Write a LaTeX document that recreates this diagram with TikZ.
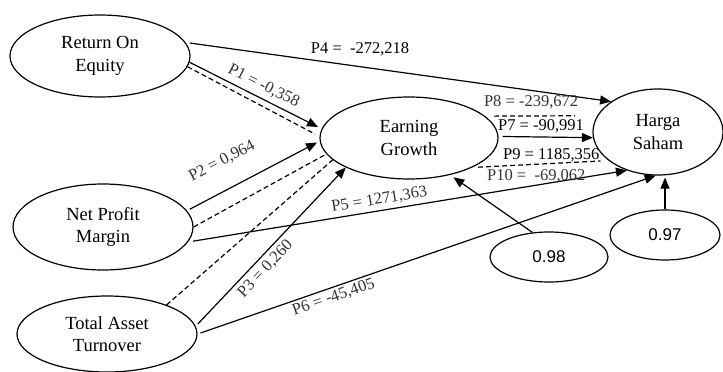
\documentclass[tikz,border=0pt]{standalone}
\usepackage{fontspec}
\setmainfont{Liberation Serif}
\newfontfamily\numfont{Liberation Sans}
\usetikzlibrary{arrows.meta,shapes.geometric}

\begin{document}
\begin{tikzpicture}[x=1pt, y=-1pt,
    construct/.style={draw, ellipse, line width=1.2pt, align=center, inner sep=0pt,
        font=\fontsize{18.5}{22.5}\selectfont},
    resid/.style={draw, ellipse, line width=1.2pt, inner sep=0pt,
        font=\numfont\fontsize{17}{20}\selectfont},
    effect/.style={line width=1.2pt, -{Triangle[length=11pt,width=9pt]}},
    indirect/.style={line width=1.2pt, dash pattern=on 5pt off 3pt},
    lbl/.style={font=\fontsize{16.5}{19}\selectfont, text=black!80, inner xsep=0pt}]

    \useasboundingbox (0,0) rectangle (723,372);

    \node[construct, minimum width=180pt, minimum height=82pt] (roe) at (100,56) {Return On\\Equity};
    \node[construct, minimum width=180pt, minimum height=86pt] (npm) at (103,227) {Net Profit\\Margin};
    \node[construct, minimum width=180pt, minimum height=76pt] (tat) at (107,334) {Total Asset\\Turnover};
    \node[construct, minimum width=178pt, minimum height=82pt] (eg) at (409,138) {Earning\\Growth};
    \node[construct, minimum width=130pt, minimum height=86pt] (hs) at (658,132) {Harga\\Saham};
    \node[resid, minimum width=118pt, minimum height=50pt] (e98) at (549,257) {0.98};
    \node[resid, minimum width=110pt, minimum height=50pt] (e97) at (665,235) {0.97};

    \draw[effect, shorten <=4pt] (roe.9) -- (hs.147)
        node[lbl, text=black, pos=.41, above, inner ysep=10pt] {P4 = \ -272,218};
    \draw[effect, shorten >=4pt] (roe.-4) -- (eg.174)
        node[lbl, sloped, pos=.52, above, inner ysep=4.8pt] {P1 = -0,358};
    \draw[indirect, shorten >=5pt] (roe.-7) -- (eg.179);
    \draw[effect, shorten <=3pt, shorten >=3pt] (npm.11) -- (eg.182)
        node[lbl, sloped, pos=.36, above, inner ysep=20pt] {P2 = 0,964};
    \draw[indirect] (npm.0) -- (eg.191);
    \draw[indirect] (tat.26) -- (eg.196);
    \draw[effect, shorten <=3pt] (tat.5) -- (eg.205)
        node[lbl, sloped, pos=.41, below, inner ysep=4pt] {P3 = 0,260};
    \draw[effect, shorten <=5pt] (npm.-10) -- (hs.231)
        node[lbl, sloped, pos=.44, above, inner ysep=3.5pt] {P5 = 1271,363};
    \draw[effect, shorten <=3pt] (tat.0) -- (hs.-93)
        node[lbl, sloped, pos=.29, below, inner ysep=2.5pt] {P6 = -45,405};

    \draw[effect, shorten <=4pt] (eg.1) -- (hs.185)
        node[lbl, text=black, pos=.45, above, inner ysep=3pt] {P7 = -90,991};
    \draw[indirect, shorten <=9pt, shorten >=22pt] (eg.16) -- (hs.165)
        node[lbl, pos=.41, above, inner ysep=6pt] {P8 = -239,672};
    \draw[indirect, shorten <=6pt, shorten >=8pt] (eg.-25) -- (hs.-150)
        node[lbl, text=black, pos=.58, above, inner ysep=1pt] {P9 = 1185,356}
        node[lbl, pos=.47, below, inner ysep=4.4pt] {P10 = \ -69,062};

    \draw[effect, shorten >=4pt] (e98.124) -- (eg.-42);
    \draw[effect, shorten >=2pt] (e97.north) -- (hs.south -| e97.north);

\end{tikzpicture}
\end{document}
